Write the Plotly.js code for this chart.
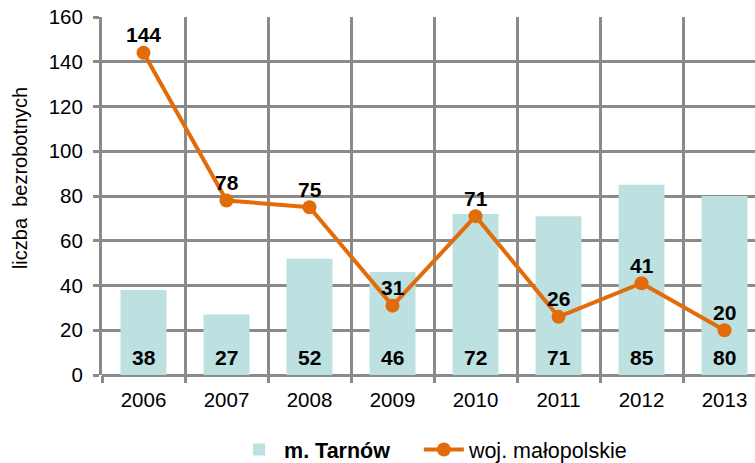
<!DOCTYPE html>
<html>
<head>
<meta charset="utf-8">
<script src="https://cdn.plot.ly/plotly-3.0.1.min.js"></script>
<style>
html, body { margin: 0; padding: 0; overflow: hidden; background: #fff; }
</style>
</head>
<body>
<div id="chart"></div>
<script>
// lata i wartosci
var years = ["2006", "2007", "2008", "2009", "2010", "2011", "2012", "2013"];
var tarnow = [38, 27, 52, 46, 72, 71, 85, 80];
var malopolskie = [144, 78, 75, 31, 71, 26, 41, 20];

var gridColor = "#8a8a8a";
var barColor = "#bde0e1";
var lineColor = "#e36c0a";
var fontFam = "Liberation Sans, Arial, sans-serif";

var bars = {
    x: years,
    y: tarnow,
    type: "bar",
    // odstep w nazwie, zeby druga pozycja legendy byla dalej
    name: "<b>m. Tarnów</b>&nbsp;&nbsp;&nbsp;&nbsp;",
    marker: { color: barColor },
    hoverinfo: "skip"
};

var line = {
    x: years,
    y: malopolskie,
    type: "scatter",
    mode: "lines+markers",
    name: "woj. małopolskie",
    line: { color: lineColor, width: 4 },
    marker: { color: lineColor, size: 14 },
    hoverinfo: "skip"
};

var annotations = [];
// etykiety slupkow (na dole)
for (var i = 0; i < years.length; ++i) {
    annotations.push({
        x: i, y: 0, xref: "x", yref: "y",
        text: "<b>" + tarnow[i] + "</b>",
        showarrow: false, yanchor: "middle", yshift: 18,
        font: { family: fontFam, size: 21, color: "#000000" }
    });
}
// etykiety linii
for (var i = 0; i < years.length; ++i) {
    annotations.push({
        x: i, y: malopolskie[i], xref: "x", yref: "y",
        text: "<b>" + malopolskie[i] + "</b>",
        showarrow: false, yanchor: "middle", yshift: 18,
        font: { family: fontFam, size: 21, color: "#000000" }
    });
}
// tytul osi y
annotations.push({
    x: 0, y: 0.55, xref: "paper", yref: "paper",
    xshift: -82, textangle: -90,
    text: "liczba  bezrobotnych",
    showarrow: false, xanchor: "center", yanchor: "middle",
    font: { family: fontFam, size: 20, color: "#000000" }
});

var layout = {
    width: 775,
    height: 470,
    margin: { l: 102, r: 9, t: 17, b: 95 },
    paper_bgcolor: "#fff",
    plot_bgcolor: "#fff",
    font: { family: fontFam, size: 20, color: "#000" },
    bargap: 0.446,
    showlegend: true,
    legend: {
        orientation: "h",
        xref: "container",
        x: 0.302, xanchor: "left",
        yref: "container",
        y: 0, yanchor: "bottom",
        font: { size: 21.5 },
        itemwidth: 40,
        traceorder: "normal"
    },
    xaxis: {
        type: "category",
        range: [-0.5, 7.5],
        tickson: "boundaries",
        showgrid: true,
        gridcolor: gridColor,
        gridwidth: 3,
        ticks: "outside",
        ticklen: 7,
        tickwidth: 3,
        tickcolor: gridColor,
        ticklabelstandoff: 10,
        showline: false,
        zeroline: false,
        tickfont: { size: 20.5 }
    },
    yaxis: {
        range: [0, 160],
        dtick: 20,
        showgrid: true,
        gridcolor: gridColor,
        gridwidth: 3,
        ticks: "outside",
        ticklen: 6,
        tickwidth: 3,
        tickcolor: gridColor,
        ticklabelstandoff: 6,
        showline: true,
        linecolor: gridColor,
        linewidth: 3,
        zeroline: true,
        zerolinecolor: gridColor,
        zerolinewidth: 3,
        tickfont: { size: 20.5 }
    },
    annotations: annotations
};

Plotly.newPlot("chart", [bars, line], layout, { displayModeBar: false });
</script>
</body>
</html>
